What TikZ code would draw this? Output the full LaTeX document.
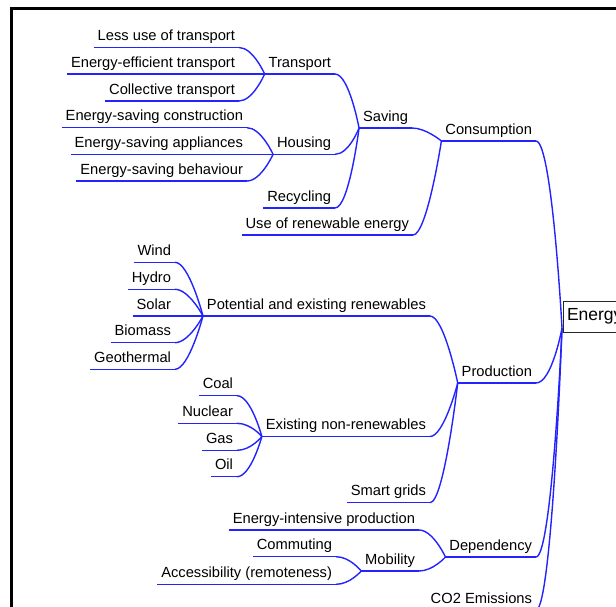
\documentclass[tikz,border=0pt]{standalone}
\usepackage{fontspec}
\setmainfont{Liberation Sans}
\definecolor{edgeblue}{RGB}{35,35,255}
\begin{document}
\begin{tikzpicture}[x=1pt,y=-1pt,
  lbl/.style={anchor=south east, inner xsep=4pt, inner ysep=3.5pt, text height=10.5pt, text depth=3.5pt, outer sep=0pt, font=\fontsize{14.7}{16}\selectfont},
  ln/.style={draw=edgeblue, line width=1.4pt},
  rootbox/.style={anchor=north west, draw=black!85, line width=1pt, inner xsep=4pt, inner ysep=0pt, minimum height=31pt, outer sep=0pt, font=\fontsize{17.5}{20}\selectfont},
  frame/.style={line width=3pt, line cap=rect}
]
\useasboundingbox (0,0) rectangle (616,606);
\clip (0,0) rectangle (616,606);
\draw[frame] (11.5,630) -- (11.5,8.5) -- (640,8.5);

% root
\node[rootbox] (root) at (563,301) {Energy};
\coordinate (rc) at (562,328);

% level 1
\node[lbl] (cons) at (536,141) {Consumption};
\node[lbl] (prod) at (536,383) {Production};
\node[lbl] (dep) at (536,557) {Dependency};
\node[lbl] (co2) at (536,610) {CO2 Emissions};

% consumption branch
\node[lbl] (sav) at (412,128) {Saving};
\node[lbl] (ren) at (413,235) {Use of renewable energy};
\node[lbl] (tra) at (335,74) {Transport};
\node[lbl] (hou) at (335,154.3) {Housing};
\node[lbl] (rec) at (335,208) {Recycling};
\node[lbl] (t1) at (239,47.5) {Less use of transport};
\node[lbl] (t2) at (239,74) {Energy-efficient transport};
\node[lbl] (t3) at (239,101) {Collective transport};
\node[lbl] (h1) at (247,127.7) {Energy-saving construction};
\node[lbl] (h2) at (247,154.3) {Energy-saving appliances};
\node[lbl] (h3) at (247,181) {Energy-saving behaviour};

% production branch
\node[lbl] (pot) at (430,316) {Potential and existing renewables};
\node[lbl] (non) at (430,436.5) {Existing non-renewables};
\node[lbl] (sg) at (430,502.7) {Smart grids};
\node[lbl] (p1) at (175,262.3) {Wind};
\node[lbl] (p2) at (175,289.3) {Hydro};
\node[lbl] (p3) at (175,316) {Solar};
\node[lbl] (p4) at (175,342.7) {Biomass};
\node[lbl] (p5) at (175,369.3) {Geothermal};
\node[lbl] (n1) at (237,395.7) {Coal};
\node[lbl] (n2) at (237,423.3) {Nuclear};
\node[lbl] (n3) at (237,450.3) {Gas};
\node[lbl] (n4) at (237,476.7) {Oil};

% dependency branch
\node[lbl] (eip) at (419,530) {Energy-intensive production};
\node[lbl] (mob) at (419,571) {Mobility};
\node[lbl] (m1) at (336,556.7) {Commuting};
\node[lbl] (m2) at (336,584.3) {Accessibility (remoteness)};

% underlines
\foreach \n in {cons,prod,dep,co2,sav,ren,tra,hou,rec,t1,t2,t3,h1,h2,h3,pot,non,sg,p1,p2,p3,p4,p5,n1,n2,n3,n4,eip,mob,m1,m2}
  \draw[ln] (\n.south west) -- (\n.south east);

% edges to root
\foreach \c in {cons,prod,dep,co2}
  \draw[ln] (\c.south east) .. controls +(16,0) and +(0,0) .. (rc);

% edges child -> parent
\foreach \c/\p in {sav/cons,ren/cons,tra/sav,hou/sav,rec/sav,t1/tra,t2/tra,t3/tra,h1/hou,h2/hou,h3/hou,
                   pot/prod,non/prod,sg/prod,p1/pot,p2/pot,p3/pot,p4/pot,p5/pot,n1/non,n2/non,n3/non,n4/non,
                   eip/dep,mob/dep,m1/mob,m2/mob}
  \draw[ln] (\c.south east) .. controls +(14,0) and +(0,0) .. (\p.south west);
\end{tikzpicture}
\end{document}
